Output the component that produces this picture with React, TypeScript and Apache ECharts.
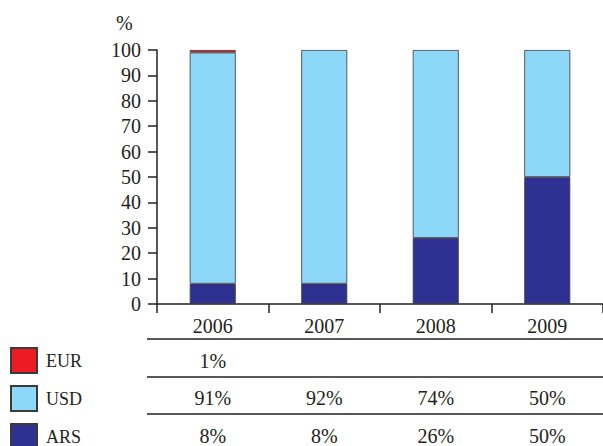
import React, { useEffect, useRef } from "react";
import * as echarts from "echarts";

// Currency composition by year (percent)
const years = ["2006", "2007", "2008", "2009"];
const ars = [8, 8, 26, 50];
const usd = [91, 92, 74, 50];
const eur = [1, null, null, null];
const yTicks = { min: 0, max: 100, interval: 10 };

const seriesNames = ["EUR", "USD", "ARS"];
const colors: Record<string, string> = {
  EUR: "#ED1C24",
  USD: "#8DD8F8",
  ARS: "#2E3192",
};

const FONT = "Liberation Serif";
const SIZE = 20;
const INK = "#231f20";

function fmt(v: number | null) {
  return v == null ? "" : `${v}%`;
}

export default function App() {
  const ref = useRef<HTMLDivElement>(null);

  useEffect(() => {
    if (!ref.current) return;
    const chart = echarts.init(ref.current, null, { renderer: "svg" });

    const barStyle = (name: string) => ({
      color: colors[name],
      borderColor: "#3a3a3a",
      borderWidth: 0.8,
    });

    chart.setOption({
      animation: false,
      backgroundColor: "#fff",
      grid: { left: 157, top: 50, width: 460, height: 254 },
      legend: {
        data: seriesNames,
        orient: "vertical",
        left: 10,
        top: 347,
        height: 110,
        padding: 0,
        itemWidth: 26,
        itemHeight: 25,
        itemGap: 11,
        icon: "rect",
        selectedMode: false,
        textStyle: {
          fontFamily: FONT,
          fontSize: 18,
          color: INK,
          padding: [0, 0, 0, 4],
        },
      },
      xAxis: {
        type: "category",
        data: years,
        axisLine: { lineStyle: { color: INK, width: 1.5 } },
        axisTick: { show: true, length: 9, alignWithLabel: false, lineStyle: { color: INK, width: 1.5 } },
        axisLabel: { fontFamily: FONT, fontSize: SIZE, color: INK, margin: 12 },
      },
      yAxis: {
        type: "value",
        min: yTicks.min,
        max: yTicks.max,
        interval: yTicks.interval,
        axisLine: { show: true, lineStyle: { color: INK, width: 1.5 } },
        axisTick: { show: true, length: 9, lineStyle: { color: INK, width: 1.5 } },
        splitLine: { show: false },
        axisLabel: { fontFamily: FONT, fontSize: SIZE, color: INK, margin: 16 },
      },
      series: [
        { name: "ARS", type: "bar", stack: "total", barWidth: 46, data: ars, itemStyle: barStyle("ARS") },
        { name: "USD", type: "bar", stack: "total", barWidth: 46, data: usd, itemStyle: barStyle("USD") },
        { name: "EUR", type: "bar", stack: "total", barWidth: 46, data: eur, itemStyle: barStyle("EUR") },
      ],
    });

    // Data table under the axis: rules plus one row of values per currency
    const rows: (number | null)[][] = [eur, usd, ars];
    const rowY = [361, 398, 436];
    const ruleY = [339, 377, 414];
    const graphic: any[] = [
      {
        type: "text",
        left: 116,
        top: 13,
        style: { text: "%", fontFamily: FONT, fontSize: SIZE, fill: INK },
      },
    ];
    ruleY.forEach((y) =>
      graphic.push({
        type: "line",
        shape: { x1: 147, y1: y, x2: 603, y2: y },
        style: { stroke: INK, lineWidth: 1.5 },
      })
    );
    rows.forEach((row, ri) => {
      years.forEach((yr, ci) => {
        const x = chart.convertToPixel({ xAxisIndex: 0 }, yr) as number;
        graphic.push({
          type: "text",
          x,
          y: rowY[ri],
          style: {
            text: fmt(row[ci]),
            fontFamily: FONT,
            fontSize: SIZE,
            fill: INK,
            align: "center",
            verticalAlign: "middle",
          },
        });
      });
    });
    chart.setOption({ graphic });

    return () => chart.dispose();
  }, []);

  return <div ref={ref} style={{ width: 603, height: 446, position: "absolute", left: 0, top: 0 }} />;
}
